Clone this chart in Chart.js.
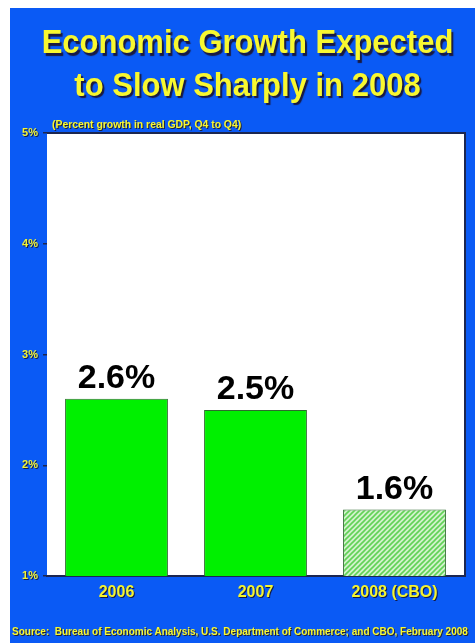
<!DOCTYPE html>
<html>
<head>
<meta charset="utf-8">
<script src="https://cdn.jsdelivr.net/npm/chart.js@4"></script>
<style>
  body { margin: 0; background: #fff; }
  #slide { position: relative; width: 475px; height: 643px; overflow: hidden; }
  #bg { position: absolute; left: 10px; top: 8px; right: 0; bottom: 0; background: #0a5af5; }
  #chart { position: absolute; left: 0; top: 0; }
  .txt { position: absolute; font-family: "Liberation Sans", Arial, sans-serif; font-weight: bold; color: #f8f830; }
  #title { left: 20px; right: 0; top: 21px; text-align: center; font-size: 31px; line-height: 39px;
           text-shadow: 2px 2px 1px #1a1a40; transform: scaleY(1.08); transform-origin: top; }
  #subtitle { left: 52px; top: 119px; font-size: 10.4px; text-shadow: 1px 1px 0 #223; }
  #source { left: 12px; top: 626px; font-size: 10px; white-space: nowrap; text-shadow: 1px 1px 0 #223; }
</style>
</head>
<body>
<div id="slide">
  <div id="bg"></div>
  <canvas id="chart" width="475" height="643"></canvas>
  <div class="txt" id="title">Economic Growth Expected<br>to Slow Sharply in 2008</div>
  <div class="txt" id="subtitle">(Percent growth in real GDP, Q4 to Q4)</div>
  <div class="txt" id="source">Source:&nbsp; Bureau of Economic Analysis, U.S. Department of Commerce; and CBO, February 2008</div>
</div>
<script>
const years = ["2006", "2007", "2008 (CBO)"];
const growth = [2.6, 2.5, 1.6];
const yTicks = [1, 2, 3, 4, 5];

const YELLOW = "#f4f430";
const FRAME = "#1c2650";

// diagonal hatch for the projected year
function hatch() {
  const c = document.createElement("canvas");
  c.width = 5;
  c.height = 5;
  const g = c.getContext("2d");
  g.fillStyle = "#d2f2cc";
  g.fillRect(0, 0, 5, 5);
  g.strokeStyle = "#62d257";
  g.lineWidth = 1.6;
  g.beginPath();
  g.moveTo(-1, 6); g.lineTo(6, -1);
  g.moveTo(-1, 1); g.lineTo(1, -1);
  g.moveTo(4, 6); g.lineTo(6, 4);
  g.stroke();
  return g.createPattern(c, "repeat");
}

const ctx = document.getElementById("chart").getContext("2d");

// white plot panel with the dark top and right edge
const panel = {
  id: "panel",
  beforeDraw(chart) {
    const { ctx, chartArea: a } = chart;
    ctx.save();
    ctx.fillStyle = "#ffffff";
    ctx.fillRect(a.left, a.top, a.right - a.left, a.bottom - a.top);
    ctx.strokeStyle = FRAME;
    ctx.lineWidth = 2;
    ctx.beginPath();
    ctx.moveTo(a.left, a.top);
    ctx.lineTo(a.right + 1, a.top);
    ctx.lineTo(a.right + 1, a.bottom + 1);
    ctx.stroke();
    ctx.restore();
  },
};

// drop shadow under axis labels
const labelShadow = {
  id: "labelShadow",
  afterLayout(chart) {
    Object.values(chart.scales).forEach((s) => {
      if (s._shadowed) return;
      const orig = s.drawLabels.bind(s);
      s.drawLabels = (area) => {
        const c = chart.ctx;
        c.save();
        c.shadowColor = "rgba(20,20,50,0.9)";
        c.shadowOffsetX = 1;
        c.shadowOffsetY = 1;
        orig(area);
        c.restore();
      };
      s._shadowed = true;
    });
  },
};

// value printed above each bar
const valueLabels = {
  id: "valueLabels",
  afterDatasetsDraw(chart) {
    const { ctx } = chart;
    const meta = chart.getDatasetMeta(0);
    ctx.save();
    ctx.fillStyle = "#000";
    ctx.font = 'bold 34px "Liberation Sans", Arial, sans-serif';
    ctx.textAlign = "center";
    ctx.textBaseline = "alphabetic";
    meta.data.forEach((bar, i) => {
      ctx.fillText(growth[i].toFixed(1) + "%", bar.x, bar.y - 11);
    });
    ctx.restore();
  },
};

new Chart(ctx, {
  type: "bar",
  data: {
    labels: years,
    datasets: [
      {
        data: growth,
        backgroundColor: ["#00f000", "#00f000", hatch()],
        borderColor: "#2e6a2e",
        borderWidth: 1,
        borderSkipped: false,
        barPercentage: 0.74,
        categoryPercentage: 1,
      },
    ],
  },
  options: {
    responsive: false,
    animation: false,
    devicePixelRatio: 1,
    layout: { padding: { left: 10, right: 11, top: 133, bottom: 0 } },
    plugins: { legend: { display: false }, tooltip: { enabled: false } },
    scales: {
      x: {
        afterFit: (s) => { s.height = 67; },
        grid: { display: true, drawOnChartArea: false, drawTicks: false },
        border: { display: true, color: FRAME, width: 2 },
        ticks: {
          color: YELLOW,
          padding: 7,
          font: { family: "'Liberation Sans', Arial, sans-serif", size: 16, weight: "bold" },
        },
      },
      y: {
        min: yTicks[0],
        max: yTicks[yTicks.length - 1],
        afterFit: (s) => { s.width = 37; },
        afterBuildTicks: (s) => { s.ticks = yTicks.map((v) => ({ value: v })); },
        grid: { drawOnChartArea: false, drawTicks: true, tickLength: 4, color: FRAME, lineWidth: 1.5 },
        border: { display: false },
        ticks: {
          color: YELLOW,
          padding: 5,
          callback: (v) => v + "%",
          font: { family: "'Liberation Sans', Arial, sans-serif", size: 11, weight: "bold" },
        },
      },
    },
  },
  plugins: [panel, labelShadow, valueLabels],
});
</script>
</body>
</html>
